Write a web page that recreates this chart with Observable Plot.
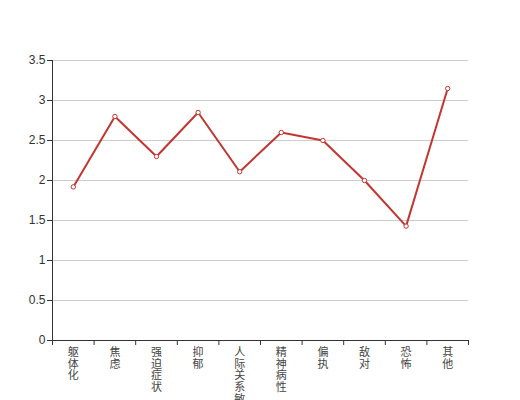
<!DOCTYPE html>
<html>
<head>
<meta charset="utf-8">
<script src="https://cdn.jsdelivr.net/npm/d3@7"></script>
<script src="https://cdn.jsdelivr.net/npm/@observablehq/plot@0.6"></script>
<style>
html, body { margin: 0; padding: 0; background: #fff; overflow: hidden; width: 520px; height: 400px; }
</style>
</head>
<body>
<div id="chart"></div>
<script>
const categories = ["躯体化", "焦虑", "强迫症状", "抑郁", "人际关系敏感", "精神病性", "偏执", "敌对", "恐怖", "其他"];
const values = [1.92, 2.80, 2.30, 2.85, 2.11, 2.60, 2.50, 2.00, 1.43, 3.15];
const yTicks = [0, 0.5, 1, 1.5, 2, 2.5, 3, 3.5];

const data = categories.map((c, i) => ({i, name: c, value: values[i]}));
const boundaries = d3.range(categories.length + 1).map(k => k - 0.5);
const color = "#c23531";
const font = "'Noto Sans CJK SC', 'Noto Sans', sans-serif";

const chart = Plot.plot({
  width: 520,
  height: 400,
  marginLeft: 52,
  marginRight: 52,
  marginTop: 60,
  marginBottom: 60,
  style: {fontFamily: font, fontSize: "12px", color: "#333", background: "#fff"},
  x: {type: "linear", domain: [-0.5, categories.length - 0.5]},
  y: {domain: [0, 3.5]},
  marks: [
    Plot.gridY(yTicks, {stroke: "#ccc", strokeOpacity: 1}),
    Plot.axisY(yTicks, {tickSize: 5, tickPadding: 2, fill: "#333", stroke: "#333", label: null, fontSize: 12, fontFamily: "'Liberation Sans', Arial, sans-serif", tickFormat: d => String(d)}),
    Plot.ruleX([-0.5], {stroke: "#333"}),
    Plot.ruleY([0], {stroke: "#333"}),
    Plot.axisX(boundaries, {tickSize: 5, tickFormat: () => "", stroke: "#333", label: null}),
    Plot.text(data, {x: "i", y: 0, text: d => d.name.split("").join("\n"), lineAnchor: "top", dy: 7, lineHeight: 1.07, fill: "#444", fontSize: 11}),
    Plot.line(data, {x: "i", y: "value", stroke: color, strokeWidth: 2}),
    Plot.dot(data, {x: "i", y: "value", r: 2.2, fill: "#fff", stroke: color, strokeWidth: 1})
  ]
});
document.getElementById("chart").appendChild(chart);
</script>
</body>
</html>
